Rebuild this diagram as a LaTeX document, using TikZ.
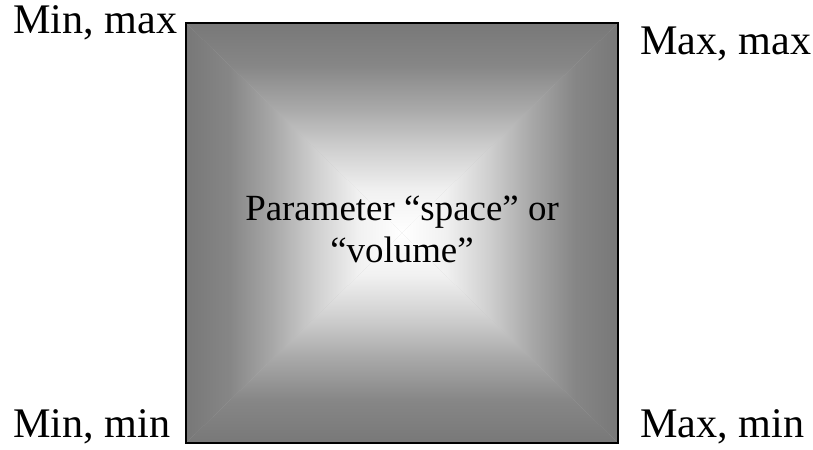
\documentclass[tikz,border=0pt]{standalone}
\usepackage{fontspec}
\setmainfont{Liberation Serif}
\definecolor{edgegray}{gray}{0.47}
\definecolor{ridgeA}{gray}{0.525}
\definecolor{ridgeB}{gray}{0.657}
\definecolor{ridgeC}{gray}{0.735}
\definecolor{ridgeD}{gray}{0.813}
\definecolor{ridgeE}{gray}{0.945}
% edge (left) to centre (right), soft at both ends
\pgfdeclarehorizontalshading{ridge}{100bp}{color(0bp)=(edgegray); color(25bp)=(edgegray);
    color(35bp)=(ridgeA); color(45bp)=(ridgeB); color(50bp)=(ridgeC); color(55bp)=(ridgeD);
    color(65bp)=(ridgeE); color(75bp)=(white); color(100bp)=(white)}
\tikzset{
    corner/.style={anchor=base west,inner sep=0pt,font=\fontsize{24}{28}\selectfont},
    spacebox/.style={draw,line width=0.9pt,minimum width=8.64cm,minimum height=8.4cm},
    spacetext/.style={align=center,inner sep=0pt,font=\fontsize{21}{24}\selectfont}
}
\begin{document}
\begin{tikzpicture}
    \useasboundingbox (0,0) rectangle (16.26,8.98);

    \coordinate (c) at (8.04,4.32);
    \coordinate (tl) at (3.72,8.52);
    \coordinate (tr) at (12.36,8.52);
    \coordinate (bl) at (3.72,0.12);
    \coordinate (br) at (12.36,0.12);

    % pyramid shading, one triangle per side
    \fill[ridgeC] (bl) rectangle (tr);
    \begin{scope}
        \clip (c)--(tl)--(tr)--cycle;
        \shade[shading=ridge,shading angle=270] (3.72,4.32) rectangle (tr);
    \end{scope}
    \begin{scope}
        \clip (c)--(bl)--(br)--cycle;
        \shade[shading=ridge,shading angle=90] (bl) rectangle (12.36,4.32);
    \end{scope}
    \begin{scope}
        \clip (c)--(tl)--(bl)--cycle;
        \shade[shading=ridge] (bl) rectangle (8.04,8.52);
    \end{scope}
    \begin{scope}
        \clip (c)--(tr)--(br)--cycle;
        \shade[shading=ridge,shading angle=180] (8.04,0.12) rectangle (tr);
    \end{scope}

    \node[spacebox] (space) at (c) {};
    \node[spacetext] (spacelabel) at (8.04,4.40) {Parameter ``space'' or\\``volume''};

    \node[corner] (minmax) at (0.26,8.30) {Min, max};
    \node[corner] (maxmax) at (12.8,7.88) {Max, max};
    \node[corner] (minmin) at (0.26,0.24) {Min, min};
    \node[corner] (maxmin) at (12.8,0.24) {Max, min};
\end{tikzpicture}
\end{document}
